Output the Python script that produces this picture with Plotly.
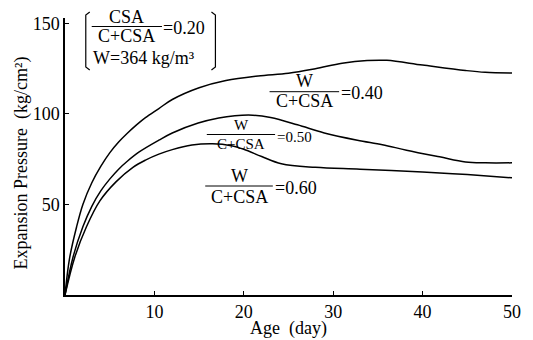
import plotly.graph_objects as go

# ---- data ----
days_040 = [0, 0.5, 1.3, 2.0, 3.0, 4.0, 5.0, 6.0, 7.0, 8.0, 9.0, 10.5, 12, 15, 18, 21.6, 25, 28, 31, 33.8, 36, 40, 44.8, 47, 50]
p_040 = [0, 20, 37.7, 50, 62, 71, 78.5, 84.5, 89.5, 94, 98, 103, 108, 114.5, 118.5, 121, 122.5, 125, 128, 129.5, 129.6, 127, 124, 123, 122.6]

days_050 = [0, 0.9, 2.0, 3.0, 4.0, 5.0, 6.0, 7.0, 8.3, 10.5, 12, 14.9, 17.2, 19, 21, 23, 26, 29, 32.7, 35.5, 38.2, 41.9, 44.8, 47, 50]
p_050 = [0, 21, 37.7, 49, 57.5, 64, 69.5, 74, 79, 85.5, 89.5, 95, 97.8, 99, 99.3, 98, 94, 89.5, 85.5, 83, 80, 76.3, 73.5, 73, 73]

days_060 = [0, 1.1, 2.4, 3.9, 5.7, 7.6, 9.0, 10.5, 12, 14.2, 16.5, 18.6, 20, 22, 24.2, 28, 33, 40, 45, 50]
p_060 = [0, 21, 37.7, 52, 62.5, 70.5, 74.5, 77.8, 80.3, 82.8, 83.5, 82.5, 80.5, 76.5, 72.5, 70.5, 69.5, 68, 66.5, 64.7]

x_ticks = [10, 20, 30, 40, 50]
y_ticks = [50, 100, 150]

# ---- geometry helpers (pixel -> paper) ----
L, R, T, B = 65, 516.7, 18, 295
W_, H_ = 533, 340


def px(x):
    return (x - L) / (R - L)


def py(y):
    return (B - y) / (B - T)


FONT = "Liberation Serif, DejaVu Serif, Times New Roman, serif"
fig = go.Figure()
for d, p in [(days_040, p_040), (days_050, p_050), (days_060, p_060)]:
    fig.add_trace(go.Scatter(x=d, y=p, mode="lines",
                             line=dict(color="black", width=1.5, shape="spline", smoothing=1.0),
                             showlegend=False, hoverinfo="skip"))

ann = []
shapes = []


def text(t, x, y, size, xanchor="center"):
    ann.append(dict(text=t, x=px(x), y=py(y), xref="paper", yref="paper",
                    xanchor=xanchor, yanchor="middle", showarrow=False,
                    font=dict(family=FONT, size=size, color="black")))


def hline(x0, x1, y):
    shapes.append(dict(type="line", xref="paper", yref="paper",
                       x0=px(x0), x1=px(x1), y0=py(y), y1=py(y),
                       line=dict(color="black", width=1)))


def frac(num, cx, ynum, x0, x1, ybar, yden, eq, xeq, yeq, size):
    text(num, cx, ynum, size)
    hline(x0, x1, ybar)
    text("C+CSA", cx, yden, size)
    text(eq, xeq, yeq, size, xanchor="left")


# box annotation
frac("CSA", 127.5, 17.5, 92, 163, 26.5, 36.5, "=0.20", 162, 28, 18)
text("W=364 kg/m³", 91, 58, 18, xanchor="left")
for path in [f"M {px(90)},{py(12)} L {px(86)},{py(15)} L {px(86)},{py(67)} L {px(90)},{py(70)}",
             f"M {px(213)},{py(12)} L {px(217)},{py(15)} L {px(217)},{py(67)} L {px(213)},{py(70)}"]:
    shapes.append(dict(type="path", xref="paper", yref="paper", path=path,
                       line=dict(color="black", width=1.2)))

# curve labels
frac("W", 307, 81, 271.7, 342, 91.7, 101, "=0.40", 342, 93.3, 18)
frac("W", 243, 125, 208.3, 277.3, 134.5, 144, "=0.50", 277, 136.7, 15)
frac("W", 241, 176, 206.7, 275, 186, 196.5, "=0.60", 275, 187.5, 18)

# axis titles
text("Expansion Pressure\u2002(kg/cm²)", 21, 163, 18)
ann[-1]["textangle"] = -90
text("Age\u2002(day)", 291, 328, 18)

fig.update_layout(
    width=W_, height=H_,
    margin=dict(l=L, r=W_ - R, t=T, b=H_ - B, pad=0),
    paper_bgcolor="white", plot_bgcolor="white",
    annotations=ann, shapes=shapes,
    font=dict(family=FONT, size=18, color="black"),
    xaxis=dict(range=[0, 50], tickvals=x_ticks, ticktext=[str(v) for v in x_ticks],
               showline=True, linecolor="black", linewidth=1.5, showgrid=False, zeroline=False,
               ticks="inside", ticklen=4, tickcolor="black",
               tickfont=dict(family=FONT, size=18)),
    yaxis=dict(range=[0, 153], tickvals=y_ticks, ticktext=[str(v) for v in y_ticks],
               showline=True, linecolor="black", linewidth=1.5, showgrid=False, zeroline=False,
               ticks="inside", ticklen=4, tickcolor="black",
               tickfont=dict(family=FONT, size=18)),
)

fig.write_html("out.html")
